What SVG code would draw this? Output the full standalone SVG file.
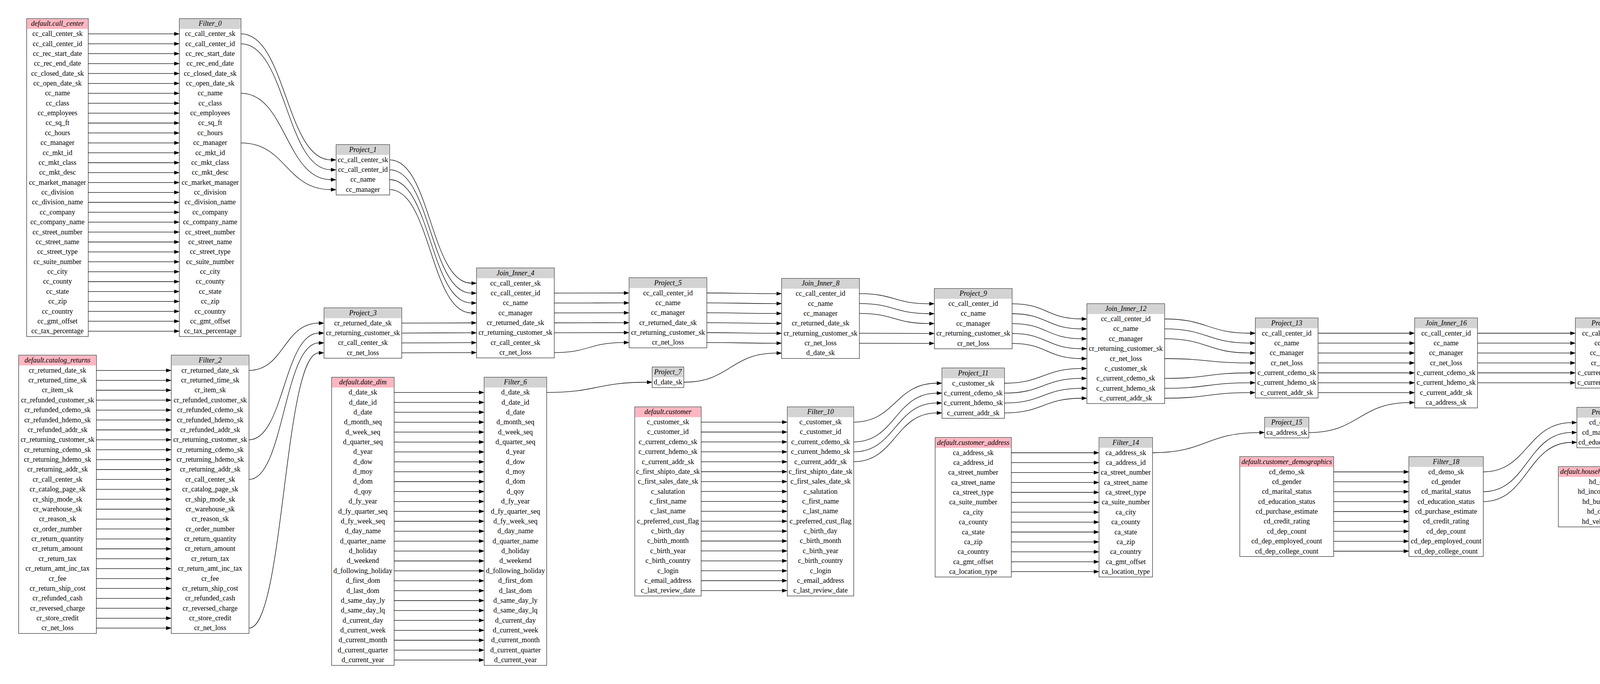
<svg xmlns="http://www.w3.org/2000/svg" width="6717" height="1751" viewBox="0 0 6717 1751">
<style>
.box{fill:#fff;stroke:#333;stroke-width:1.3}
.hs{fill:#ffb6c1}
.ho{fill:#d3d3d3}
.hf{fill:#ffffe0}
text{font-family:"Liberation Serif","Times New Roman",serif;font-size:18px;text-anchor:middle;fill:#000}
text.h{font-style:italic}
.e path{fill:none;stroke:#000;stroke-width:1.3;marker-end:url(#a)}
</style>
<defs>
<marker id="a" markerUnits="userSpaceOnUse" markerWidth="14" markerHeight="10" viewBox="0 0 13.3 9.33" refX="0" refY="4.67" orient="auto"><path d="M0,0L13.3,4.67L0,9.33z" fill="#000"/></marker>
</defs>
<rect width="6717" height="1751" fill="#fff"/>

<g id="call_center" transform="translate(68.3,47.7)">
<rect class="box" width="157.7" height="813.8"/><rect class="hs" x="1.3" y="1.3" width="155.1" height="25"/>
<text class="h" x="78.85" y="18.5">default.call_center</text>
<text x="78.85" y="44.5">cc_call_center_sk</text><text x="78.85" y="69.9">cc_call_center_id</text><text x="78.85" y="95.2">cc_rec_start_date</text><text x="78.85" y="120.6">cc_rec_end_date</text><text x="78.85" y="146.0">cc_closed_date_sk</text><text x="78.85" y="171.4">cc_open_date_sk</text><text x="78.85" y="196.7">cc_name</text><text x="78.85" y="222.1">cc_class</text><text x="78.85" y="247.5">cc_employees</text><text x="78.85" y="272.8">cc_sq_ft</text><text x="78.85" y="298.2">cc_hours</text><text x="78.85" y="323.6">cc_manager</text><text x="78.85" y="348.9">cc_mkt_id</text><text x="78.85" y="374.3">cc_mkt_class</text><text x="78.85" y="399.7">cc_mkt_desc</text><text x="78.85" y="425.1">cc_market_manager</text><text x="78.85" y="450.4">cc_division</text><text x="78.85" y="475.8">cc_division_name</text><text x="78.85" y="501.2">cc_company</text><text x="78.85" y="526.5">cc_company_name</text><text x="78.85" y="551.9">cc_street_number</text><text x="78.85" y="577.3">cc_street_name</text><text x="78.85" y="602.6">cc_street_type</text><text x="78.85" y="628.0">cc_suite_number</text><text x="78.85" y="653.4">cc_city</text><text x="78.85" y="678.8">cc_county</text><text x="78.85" y="704.1">cc_state</text><text x="78.85" y="729.5">cc_zip</text><text x="78.85" y="754.9">cc_country</text><text x="78.85" y="780.2">cc_gmt_offset</text><text x="78.85" y="805.6">cc_tax_percentage</text>
</g>

<g id="Filter_0" transform="translate(459.2,47.7)">
<rect class="box" width="157.7" height="813.8"/><rect class="ho" x="1.3" y="1.3" width="155.1" height="25"/>
<text class="h" x="78.85" y="18.5">Filter_0</text>
<text x="78.85" y="44.5">cc_call_center_sk</text><text x="78.85" y="69.9">cc_call_center_id</text><text x="78.85" y="95.2">cc_rec_start_date</text><text x="78.85" y="120.6">cc_rec_end_date</text><text x="78.85" y="146.0">cc_closed_date_sk</text><text x="78.85" y="171.4">cc_open_date_sk</text><text x="78.85" y="196.7">cc_name</text><text x="78.85" y="222.1">cc_class</text><text x="78.85" y="247.5">cc_employees</text><text x="78.85" y="272.8">cc_sq_ft</text><text x="78.85" y="298.2">cc_hours</text><text x="78.85" y="323.6">cc_manager</text><text x="78.85" y="348.9">cc_mkt_id</text><text x="78.85" y="374.3">cc_mkt_class</text><text x="78.85" y="399.7">cc_mkt_desc</text><text x="78.85" y="425.1">cc_market_manager</text><text x="78.85" y="450.4">cc_division</text><text x="78.85" y="475.8">cc_division_name</text><text x="78.85" y="501.2">cc_company</text><text x="78.85" y="526.5">cc_company_name</text><text x="78.85" y="551.9">cc_street_number</text><text x="78.85" y="577.3">cc_street_name</text><text x="78.85" y="602.6">cc_street_type</text><text x="78.85" y="628.0">cc_suite_number</text><text x="78.85" y="653.4">cc_city</text><text x="78.85" y="678.8">cc_county</text><text x="78.85" y="704.1">cc_state</text><text x="78.85" y="729.5">cc_zip</text><text x="78.85" y="754.9">cc_country</text><text x="78.85" y="780.2">cc_gmt_offset</text><text x="78.85" y="805.6">cc_tax_percentage</text>
</g>

<g id="catalog_returns" transform="translate(47.7,909.3)">
<rect class="box" width="199" height="712.3"/><rect class="hs" x="1.3" y="1.3" width="196.4" height="25"/>
<text class="h" x="99.5" y="18.5">default.catalog_returns</text>
<text x="99.5" y="44.5">cr_returned_date_sk</text><text x="99.5" y="69.9">cr_returned_time_sk</text><text x="99.5" y="95.2">cr_item_sk</text><text x="99.5" y="120.6">cr_refunded_customer_sk</text><text x="99.5" y="146.0">cr_refunded_cdemo_sk</text><text x="99.5" y="171.4">cr_refunded_hdemo_sk</text><text x="99.5" y="196.7">cr_refunded_addr_sk</text><text x="99.5" y="222.1">cr_returning_customer_sk</text><text x="99.5" y="247.5">cr_returning_cdemo_sk</text><text x="99.5" y="272.8">cr_returning_hdemo_sk</text><text x="99.5" y="298.2">cr_returning_addr_sk</text><text x="99.5" y="323.6">cr_call_center_sk</text><text x="99.5" y="348.9">cr_catalog_page_sk</text><text x="99.5" y="374.3">cr_ship_mode_sk</text><text x="99.5" y="399.7">cr_warehouse_sk</text><text x="99.5" y="425.1">cr_reason_sk</text><text x="99.5" y="450.4">cr_order_number</text><text x="99.5" y="475.8">cr_return_quantity</text><text x="99.5" y="501.2">cr_return_amount</text><text x="99.5" y="526.5">cr_return_tax</text><text x="99.5" y="551.9">cr_return_amt_inc_tax</text><text x="99.5" y="577.3">cr_fee</text><text x="99.5" y="602.6">cr_return_ship_cost</text><text x="99.5" y="628.0">cr_refunded_cash</text><text x="99.5" y="653.4">cr_reversed_charge</text><text x="99.5" y="678.8">cr_store_credit</text><text x="99.5" y="704.1">cr_net_loss</text>
</g>

<g id="Filter_2" transform="translate(438.5,909.3)">
<rect class="box" width="199" height="712.3"/><rect class="ho" x="1.3" y="1.3" width="196.4" height="25"/>
<text class="h" x="99.5" y="18.5">Filter_2</text>
<text x="99.5" y="44.5">cr_returned_date_sk</text><text x="99.5" y="69.9">cr_returned_time_sk</text><text x="99.5" y="95.2">cr_item_sk</text><text x="99.5" y="120.6">cr_refunded_customer_sk</text><text x="99.5" y="146.0">cr_refunded_cdemo_sk</text><text x="99.5" y="171.4">cr_refunded_hdemo_sk</text><text x="99.5" y="196.7">cr_refunded_addr_sk</text><text x="99.5" y="222.1">cr_returning_customer_sk</text><text x="99.5" y="247.5">cr_returning_cdemo_sk</text><text x="99.5" y="272.8">cr_returning_hdemo_sk</text><text x="99.5" y="298.2">cr_returning_addr_sk</text><text x="99.5" y="323.6">cr_call_center_sk</text><text x="99.5" y="348.9">cr_catalog_page_sk</text><text x="99.5" y="374.3">cr_ship_mode_sk</text><text x="99.5" y="399.7">cr_warehouse_sk</text><text x="99.5" y="425.1">cr_reason_sk</text><text x="99.5" y="450.4">cr_order_number</text><text x="99.5" y="475.8">cr_return_quantity</text><text x="99.5" y="501.2">cr_return_amount</text><text x="99.5" y="526.5">cr_return_tax</text><text x="99.5" y="551.9">cr_return_amt_inc_tax</text><text x="99.5" y="577.3">cr_fee</text><text x="99.5" y="602.6">cr_return_ship_cost</text><text x="99.5" y="628.0">cr_refunded_cash</text><text x="99.5" y="653.4">cr_reversed_charge</text><text x="99.5" y="678.8">cr_store_credit</text><text x="99.5" y="704.1">cr_net_loss</text>
</g>

<g id="Project_1" transform="translate(860.5,370.3)">
<rect class="box" width="137" height="128.8"/><rect class="ho" x="1.3" y="1.3" width="134.4" height="25"/>
<text class="h" x="68.5" y="18.5">Project_1</text>
<text x="68.5" y="44.5">cc_call_center_sk</text><text x="68.5" y="69.9">cc_call_center_id</text><text x="68.5" y="95.2">cc_name</text><text x="68.5" y="120.6">cc_manager</text>
</g>

<g id="Project_3" transform="translate(829.5,788.2)">
<rect class="box" width="199" height="128.8"/><rect class="ho" x="1.3" y="1.3" width="196.4" height="25"/>
<text class="h" x="99.5" y="18.5">Project_3</text>
<text x="99.5" y="44.5">cr_returned_date_sk</text><text x="99.5" y="69.9">cr_returning_customer_sk</text><text x="99.5" y="95.2">cr_call_center_sk</text><text x="99.5" y="120.6">cr_net_loss</text>
</g>

<g id="date_dim" transform="translate(849,965.7)">
<rect class="box" width="160" height="737.7"/><rect class="hs" x="1.3" y="1.3" width="157.4" height="25"/>
<text class="h" x="80" y="18.5">default.date_dim</text>
<text x="80" y="44.5">d_date_sk</text><text x="80" y="69.9">d_date_id</text><text x="80" y="95.2">d_date</text><text x="80" y="120.6">d_month_seq</text><text x="80" y="146.0">d_week_seq</text><text x="80" y="171.4">d_quarter_seq</text><text x="80" y="196.7">d_year</text><text x="80" y="222.1">d_dow</text><text x="80" y="247.5">d_moy</text><text x="80" y="272.8">d_dom</text><text x="80" y="298.2">d_qoy</text><text x="80" y="323.6">d_fy_year</text><text x="80" y="348.9">d_fy_quarter_seq</text><text x="80" y="374.3">d_fy_week_seq</text><text x="80" y="399.7">d_day_name</text><text x="80" y="425.1">d_quarter_name</text><text x="80" y="450.4">d_holiday</text><text x="80" y="475.8">d_weekend</text><text x="80" y="501.2">d_following_holiday</text><text x="80" y="526.5">d_first_dom</text><text x="80" y="551.9">d_last_dom</text><text x="80" y="577.3">d_same_day_ly</text><text x="80" y="602.6">d_same_day_lq</text><text x="80" y="628.0">d_current_day</text><text x="80" y="653.4">d_current_week</text><text x="80" y="678.8">d_current_month</text><text x="80" y="704.1">d_current_quarter</text><text x="80" y="729.5">d_current_year</text>
</g>

<g id="Join_Inner_4" transform="translate(1220,686)">
<rect class="box" width="199" height="230.3"/><rect class="ho" x="1.3" y="1.3" width="196.4" height="25"/>
<text class="h" x="99.5" y="18.5">Join_Inner_4</text>
<text x="99.5" y="44.5">cc_call_center_sk</text><text x="99.5" y="69.9">cc_call_center_id</text><text x="99.5" y="95.2">cc_name</text><text x="99.5" y="120.6">cc_manager</text><text x="99.5" y="146.0">cr_returned_date_sk</text><text x="99.5" y="171.4">cr_returning_customer_sk</text><text x="99.5" y="196.7">cr_call_center_sk</text><text x="99.5" y="222.1">cr_net_loss</text>
</g>

<g id="Filter_6" transform="translate(1239.5,965.7)">
<rect class="box" width="160" height="737.7"/><rect class="ho" x="1.3" y="1.3" width="157.4" height="25"/>
<text class="h" x="80" y="18.5">Filter_6</text>
<text x="80" y="44.5">d_date_sk</text><text x="80" y="69.9">d_date_id</text><text x="80" y="95.2">d_date</text><text x="80" y="120.6">d_month_seq</text><text x="80" y="146.0">d_week_seq</text><text x="80" y="171.4">d_quarter_seq</text><text x="80" y="196.7">d_year</text><text x="80" y="222.1">d_dow</text><text x="80" y="247.5">d_moy</text><text x="80" y="272.8">d_dom</text><text x="80" y="298.2">d_qoy</text><text x="80" y="323.6">d_fy_year</text><text x="80" y="348.9">d_fy_quarter_seq</text><text x="80" y="374.3">d_fy_week_seq</text><text x="80" y="399.7">d_day_name</text><text x="80" y="425.1">d_quarter_name</text><text x="80" y="450.4">d_holiday</text><text x="80" y="475.8">d_weekend</text><text x="80" y="501.2">d_following_holiday</text><text x="80" y="526.5">d_first_dom</text><text x="80" y="551.9">d_last_dom</text><text x="80" y="577.3">d_same_day_ly</text><text x="80" y="602.6">d_same_day_lq</text><text x="80" y="628.0">d_current_day</text><text x="80" y="653.4">d_current_week</text><text x="80" y="678.8">d_current_month</text><text x="80" y="704.1">d_current_quarter</text><text x="80" y="729.5">d_current_year</text>
</g>

<g id="Project_5" transform="translate(1610.5,711)">
<rect class="box" width="199" height="179.5"/><rect class="ho" x="1.3" y="1.3" width="196.4" height="25"/>
<text class="h" x="99.5" y="18.5">Project_5</text>
<text x="99.5" y="44.5">cc_call_center_id</text><text x="99.5" y="69.9">cc_name</text><text x="99.5" y="95.2">cc_manager</text><text x="99.5" y="120.6">cr_returned_date_sk</text><text x="99.5" y="146.0">cr_returning_customer_sk</text><text x="99.5" y="171.4">cr_net_loss</text>
</g>

<g id="Project_7" transform="translate(1669.5,939.5)">
<rect class="box" width="81" height="52.7"/><rect class="ho" x="1.3" y="1.3" width="78.4" height="25"/>
<text class="h" x="40.5" y="18.5">Project_7</text>
<text x="40.5" y="44.5">d_date_sk</text>
</g>

<g id="customer" transform="translate(1625,1041.6)">
<rect class="box" width="170" height="484"/><rect class="hs" x="1.3" y="1.3" width="167.4" height="25"/>
<text class="h" x="85" y="18.5">default.customer</text>
<text x="85" y="44.5">c_customer_sk</text><text x="85" y="69.9">c_customer_id</text><text x="85" y="95.2">c_current_cdemo_sk</text><text x="85" y="120.6">c_current_hdemo_sk</text><text x="85" y="146.0">c_current_addr_sk</text><text x="85" y="171.4">c_first_shipto_date_sk</text><text x="85" y="196.7">c_first_sales_date_sk</text><text x="85" y="222.1">c_salutation</text><text x="85" y="247.5">c_first_name</text><text x="85" y="272.8">c_last_name</text><text x="85" y="298.2">c_preferred_cust_flag</text><text x="85" y="323.6">c_birth_day</text><text x="85" y="348.9">c_birth_month</text><text x="85" y="374.3">c_birth_year</text><text x="85" y="399.7">c_birth_country</text><text x="85" y="425.1">c_login</text><text x="85" y="450.4">c_email_address</text><text x="85" y="475.8">c_last_review_date</text>
</g>

<g id="Join_Inner_8" transform="translate(2001,712.7)">
<rect class="box" width="199" height="204.9"/><rect class="ho" x="1.3" y="1.3" width="196.4" height="25"/>
<text class="h" x="99.5" y="18.5">Join_Inner_8</text>
<text x="99.5" y="44.5">cc_call_center_id</text><text x="99.5" y="69.9">cc_name</text><text x="99.5" y="95.2">cc_manager</text><text x="99.5" y="120.6">cr_returned_date_sk</text><text x="99.5" y="146.0">cr_returning_customer_sk</text><text x="99.5" y="171.4">cr_net_loss</text><text x="99.5" y="196.7">d_date_sk</text>
</g>

<g id="Filter_10" transform="translate(2015.5,1041.6)">
<rect class="box" width="170" height="484"/><rect class="ho" x="1.3" y="1.3" width="167.4" height="25"/>
<text class="h" x="85" y="18.5">Filter_10</text>
<text x="85" y="44.5">c_customer_sk</text><text x="85" y="69.9">c_customer_id</text><text x="85" y="95.2">c_current_cdemo_sk</text><text x="85" y="120.6">c_current_hdemo_sk</text><text x="85" y="146.0">c_current_addr_sk</text><text x="85" y="171.4">c_first_shipto_date_sk</text><text x="85" y="196.7">c_first_sales_date_sk</text><text x="85" y="222.1">c_salutation</text><text x="85" y="247.5">c_first_name</text><text x="85" y="272.8">c_last_name</text><text x="85" y="298.2">c_preferred_cust_flag</text><text x="85" y="323.6">c_birth_day</text><text x="85" y="348.9">c_birth_month</text><text x="85" y="374.3">c_birth_year</text><text x="85" y="399.7">c_birth_country</text><text x="85" y="425.1">c_login</text><text x="85" y="450.4">c_email_address</text><text x="85" y="475.8">c_last_review_date</text>
</g>

<g id="Project_9" transform="translate(2392,738.6)">
<rect class="box" width="199" height="154.2"/><rect class="ho" x="1.3" y="1.3" width="196.4" height="25"/>
<text class="h" x="99.5" y="18.5">Project_9</text>
<text x="99.5" y="44.5">cc_call_center_id</text><text x="99.5" y="69.9">cc_name</text><text x="99.5" y="95.2">cc_manager</text><text x="99.5" y="120.6">cr_returning_customer_sk</text><text x="99.5" y="146.0">cr_net_loss</text>
</g>

<g id="Project_11" transform="translate(2411.5,942)">
<rect class="box" width="160" height="128.8"/><rect class="ho" x="1.3" y="1.3" width="157.4" height="25"/>
<text class="h" x="80" y="18.5">Project_11</text>
<text x="80" y="44.5">c_customer_sk</text><text x="80" y="69.9">c_current_cdemo_sk</text><text x="80" y="95.2">c_current_hdemo_sk</text><text x="80" y="120.6">c_current_addr_sk</text>
</g>

<g id="customer_address" transform="translate(2394,1120)">
<rect class="box" width="195" height="357.1"/><rect class="hs" x="1.3" y="1.3" width="192.4" height="25"/>
<text class="h" x="97.5" y="18.5">default.customer_address</text>
<text x="97.5" y="44.5">ca_address_sk</text><text x="97.5" y="69.9">ca_address_id</text><text x="97.5" y="95.2">ca_street_number</text><text x="97.5" y="120.6">ca_street_name</text><text x="97.5" y="146.0">ca_street_type</text><text x="97.5" y="171.4">ca_suite_number</text><text x="97.5" y="196.7">ca_city</text><text x="97.5" y="222.1">ca_county</text><text x="97.5" y="247.5">ca_state</text><text x="97.5" y="272.8">ca_zip</text><text x="97.5" y="298.2">ca_country</text><text x="97.5" y="323.6">ca_gmt_offset</text><text x="97.5" y="348.9">ca_location_type</text>
</g>

<g id="Join_Inner_12" transform="translate(2782.5,777.5)">
<rect class="box" width="199" height="255.6"/><rect class="ho" x="1.3" y="1.3" width="196.4" height="25"/>
<text class="h" x="99.5" y="18.5">Join_Inner_12</text>
<text x="99.5" y="44.5">cc_call_center_id</text><text x="99.5" y="69.9">cc_name</text><text x="99.5" y="95.2">cc_manager</text><text x="99.5" y="120.6">cr_returning_customer_sk</text><text x="99.5" y="146.0">cr_net_loss</text><text x="99.5" y="171.4">c_customer_sk</text><text x="99.5" y="196.7">c_current_cdemo_sk</text><text x="99.5" y="222.1">c_current_hdemo_sk</text><text x="99.5" y="247.5">c_current_addr_sk</text>
</g>

<g id="Filter_14" transform="translate(2813.5,1120)">
<rect class="box" width="137" height="357.1"/><rect class="ho" x="1.3" y="1.3" width="134.4" height="25"/>
<text class="h" x="68.5" y="18.5">Filter_14</text>
<text x="68.5" y="44.5">ca_address_sk</text><text x="68.5" y="69.9">ca_address_id</text><text x="68.5" y="95.2">ca_street_number</text><text x="68.5" y="120.6">ca_street_name</text><text x="68.5" y="146.0">ca_street_type</text><text x="68.5" y="171.4">ca_suite_number</text><text x="68.5" y="196.7">ca_city</text><text x="68.5" y="222.1">ca_county</text><text x="68.5" y="247.5">ca_state</text><text x="68.5" y="272.8">ca_zip</text><text x="68.5" y="298.2">ca_country</text><text x="68.5" y="323.6">ca_gmt_offset</text><text x="68.5" y="348.9">ca_location_type</text>
</g>

<g id="Project_13" transform="translate(3213.7,814)">
<rect class="box" width="160.6" height="204.9"/><rect class="ho" x="1.3" y="1.3" width="158" height="25"/>
<text class="h" x="80.3" y="18.5">Project_13</text>
<text x="80.3" y="44.5">cc_call_center_id</text><text x="80.3" y="69.9">cc_name</text><text x="80.3" y="95.2">cc_manager</text><text x="80.3" y="120.6">cr_net_loss</text><text x="80.3" y="146.0">c_current_cdemo_sk</text><text x="80.3" y="171.4">c_current_hdemo_sk</text><text x="80.3" y="196.7">c_current_addr_sk</text>
</g>

<g id="Project_15" transform="translate(3237.5,1068.3)">
<rect class="box" width="113" height="52.7"/><rect class="ho" x="1.3" y="1.3" width="110.4" height="25"/>
<text class="h" x="56.5" y="18.5">Project_15</text>
<text x="56.5" y="44.5">ca_address_sk</text>
</g>

<g id="customer_demographics" transform="translate(3173.8,1169)">
<rect class="box" width="240.4" height="255.6"/><rect class="hs" x="1.3" y="1.3" width="237.8" height="25"/>
<text class="h" x="120.2" y="18.5">default.customer_demographics</text>
<text x="120.2" y="44.5">cd_demo_sk</text><text x="120.2" y="69.9">cd_gender</text><text x="120.2" y="95.2">cd_marital_status</text><text x="120.2" y="120.6">cd_education_status</text><text x="120.2" y="146.0">cd_purchase_estimate</text><text x="120.2" y="171.4">cd_credit_rating</text><text x="120.2" y="196.7">cd_dep_count</text><text x="120.2" y="222.1">cd_dep_employed_count</text><text x="120.2" y="247.5">cd_dep_college_count</text>
</g>

<g id="Join_Inner_16" transform="translate(3621.6,814)">
<rect class="box" width="160.8" height="230.3"/><rect class="ho" x="1.3" y="1.3" width="158.2" height="25"/>
<text class="h" x="80.4" y="18.5">Join_Inner_16</text>
<text x="80.4" y="44.5">cc_call_center_id</text><text x="80.4" y="69.9">cc_name</text><text x="80.4" y="95.2">cc_manager</text><text x="80.4" y="120.6">cr_net_loss</text><text x="80.4" y="146.0">c_current_cdemo_sk</text><text x="80.4" y="171.4">c_current_hdemo_sk</text><text x="80.4" y="196.7">c_current_addr_sk</text><text x="80.4" y="222.1">ca_address_sk</text>
</g>

<g id="Filter_18" transform="translate(3606.7,1169)">
<rect class="box" width="190.6" height="255.6"/><rect class="ho" x="1.3" y="1.3" width="188" height="25"/>
<text class="h" x="95.3" y="18.5">Filter_18</text>
<text x="95.3" y="44.5">cd_demo_sk</text><text x="95.3" y="69.9">cd_gender</text><text x="95.3" y="95.2">cd_marital_status</text><text x="95.3" y="120.6">cd_education_status</text><text x="95.3" y="146.0">cd_purchase_estimate</text><text x="95.3" y="171.4">cd_credit_rating</text><text x="95.3" y="196.7">cd_dep_count</text><text x="95.3" y="222.1">cd_dep_employed_count</text><text x="95.3" y="247.5">cd_dep_college_count</text>
</g>

<g id="Project_17" transform="translate(4033,814)">
<rect class="box" width="161.5" height="179.5"/><rect class="ho" x="1.3" y="1.3" width="158.9" height="25"/>
<text class="h" x="80.75" y="18.5">Project_17</text>
<text x="80.75" y="44.5">cc_call_center_id</text><text x="80.75" y="69.9">cc_name</text><text x="80.75" y="95.2">cc_manager</text><text x="80.75" y="120.6">cr_net_loss</text><text x="80.75" y="146.0">c_current_cdemo_sk</text><text x="80.75" y="171.4">c_current_hdemo_sk</text>
</g>

<g id="Project_19" transform="translate(4036.8,1042.8)">
<rect class="box" width="154" height="103.4"/><rect class="ho" x="1.3" y="1.3" width="151.4" height="25"/>
<text class="h" x="77" y="18.5">Project_19</text>
<text x="77" y="44.5">cd_demo_sk</text><text x="77" y="69.9">cd_marital_status</text><text x="77" y="95.2">cd_education_status</text>
</g>

<g id="household_demographics" transform="translate(3989.4,1194.6)">
<rect class="box" width="248.7" height="154.2"/><rect class="hs" x="1.3" y="1.3" width="246.1" height="25"/>
<text class="h" x="124.35" y="18.5">default.household_demographics</text>
<text x="124.35" y="44.5">hd_demo_sk</text><text x="124.35" y="69.9">hd_income_band_sk</text><text x="124.35" y="95.2">hd_buy_potential</text><text x="124.35" y="120.6">hd_dep_count</text><text x="124.35" y="146.0">hd_vehicle_count</text>
</g>

<g id="Join_Inner_20" transform="translate(4430.6,815.7)">
<rect class="box" width="160.8" height="255.6"/><rect class="ho" x="1.3" y="1.3" width="158.2" height="25"/>
<text class="h" x="80.4" y="18.5">Join_Inner_20</text>
<text x="80.4" y="44.5">cc_call_center_id</text><text x="80.4" y="69.9">cc_name</text><text x="80.4" y="95.2">cc_manager</text><text x="80.4" y="120.6">cr_net_loss</text><text x="80.4" y="146.0">c_current_cdemo_sk</text><text x="80.4" y="171.4">c_current_hdemo_sk</text><text x="80.4" y="196.7">cd_demo_sk</text><text x="80.4" y="222.1">cd_marital_status</text><text x="80.4" y="247.5">cd_education_status</text>
</g>

<g id="Filter_22" transform="translate(4431.8,1194.6)">
<rect class="box" width="158.4" height="154.2"/><rect class="ho" x="1.3" y="1.3" width="155.8" height="25"/>
<text class="h" x="79.2" y="18.5">Filter_22</text>
<text x="79.2" y="44.5">hd_demo_sk</text><text x="79.2" y="69.9">hd_income_band_sk</text><text x="79.2" y="95.2">hd_buy_potential</text><text x="79.2" y="120.6">hd_dep_count</text><text x="79.2" y="146.0">hd_vehicle_count</text>
</g>

<g id="Project_21" transform="translate(4783.5,828.7)">
<rect class="box" width="161" height="204.9"/><rect class="ho" x="1.3" y="1.3" width="158.4" height="25"/>
<text class="h" x="80.5" y="18.5">Project_21</text>
<text x="80.5" y="44.5">cc_call_center_id</text><text x="80.5" y="69.9">cc_name</text><text x="80.5" y="95.2">cc_manager</text><text x="80.5" y="120.6">cr_net_loss</text><text x="80.5" y="146.0">c_current_hdemo_sk</text><text x="80.5" y="171.4">cd_marital_status</text><text x="80.5" y="196.7">cd_education_status</text>
</g>

<g id="Project_23" transform="translate(4813.6,1131.6)">
<rect class="box" width="100.8" height="52.7"/><rect class="ho" x="1.3" y="1.3" width="98.2" height="25"/>
<text class="h" x="50.4" y="18.5">Project_23</text>
<text x="50.4" y="44.5">hd_demo_sk</text>
</g>

<g id="Join_Inner_24" transform="translate(5137.3,828.7)">
<rect class="box" width="161" height="230.3"/><rect class="ho" x="1.3" y="1.3" width="158.4" height="25"/>
<text class="h" x="80.5" y="18.5">Join_Inner_24</text>
<text x="80.5" y="44.5">cc_call_center_id</text><text x="80.5" y="69.9">cc_name</text><text x="80.5" y="95.2">cc_manager</text><text x="80.5" y="120.6">cr_net_loss</text><text x="80.5" y="146.0">c_current_hdemo_sk</text><text x="80.5" y="171.4">cd_marital_status</text><text x="80.5" y="196.7">cd_education_status</text><text x="80.5" y="222.1">hd_demo_sk</text>
</g>

<g id="Project_25" transform="translate(5491,828.7)">
<rect class="box" width="154" height="179.5"/><rect class="ho" x="1.3" y="1.3" width="151.4" height="25"/>
<text class="h" x="77" y="18.5">Project_25</text>
<text x="77" y="44.5">cc_call_center_id</text><text x="77" y="69.9">cc_name</text><text x="77" y="95.2">cc_manager</text><text x="77" y="120.6">cr_net_loss</text><text x="77" y="146.0">cd_marital_status</text><text x="77" y="171.4">cd_education_status</text>
</g>

<g id="Aggregate_26" transform="translate(5837.5,828.7)">
<rect class="box" width="149" height="128.8"/><rect class="ho" x="1.3" y="1.3" width="146.4" height="25"/>
<text class="h" x="74.5" y="18.5">Aggregate_26</text>
<text x="74.5" y="44.5">Call_Center</text><text x="74.5" y="69.9">Call_Center_Name</text><text x="74.5" y="95.2">Manager</text><text x="74.5" y="120.6">Returns_Loss</text>
</g>

<g id="Sort_27" transform="translate(6178.5,828.7)">
<rect class="box" width="149" height="128.8"/><rect class="ho" x="1.3" y="1.3" width="146.4" height="25"/>
<text class="h" x="74.5" y="18.5">Sort_27</text>
<text x="74.5" y="44.5">Call_Center</text><text x="74.5" y="69.9">Call_Center_Name</text><text x="74.5" y="95.2">Manager</text><text x="74.5" y="120.6">Returns_Loss</text>
</g>

<g id="v" transform="translate(6520,828.7)">
<rect class="box" width="149" height="128.8"/><rect class="hf" x="1.3" y="1.3" width="146.4" height="25"/>
<text class="h" x="74.5" y="18.5">v</text>
<text x="74.5" y="44.5">Call_Center</text><text x="74.5" y="69.9">Call_Center_Name</text><text x="74.5" y="95.2">Manager</text><text x="74.5" y="120.6">Returns_Loss</text>
</g>

<g id="connectors" class="e">
<path d="M226,86.7H445.9"/><path d="M226,112.1H445.9"/><path d="M226,137.4H445.9"/><path d="M226,162.8H445.9"/><path d="M226,188.2H445.9"/><path d="M226,213.6H445.9"/><path d="M226,238.9H445.9"/><path d="M226,264.3H445.9"/><path d="M226,289.7H445.9"/><path d="M226,315H445.9"/><path d="M226,340.4H445.9"/><path d="M226,365.8H445.9"/><path d="M226,391.1H445.9"/><path d="M226,416.5H445.9"/><path d="M226,441.9H445.9"/><path d="M226,467.3H445.9"/><path d="M226,492.6H445.9"/><path d="M226,518H445.9"/><path d="M226,543.4H445.9"/><path d="M226,568.7H445.9"/><path d="M226,594.1H445.9"/><path d="M226,619.5H445.9"/><path d="M226,644.8H445.9"/><path d="M226,670.2H445.9"/><path d="M226,695.6H445.9"/><path d="M226,721H445.9"/><path d="M226,746.3H445.9"/><path d="M226,771.7H445.9"/><path d="M226,797.1H445.9"/><path d="M226,822.4H445.9"/><path d="M226,847.8H445.9"/>
<path d="M246.7,948.3H425.2"/><path d="M246.7,973.7H425.2"/><path d="M246.7,999H425.2"/><path d="M246.7,1024.4H425.2"/><path d="M246.7,1049.8H425.2"/><path d="M246.7,1075.2H425.2"/><path d="M246.7,1100.5H425.2"/><path d="M246.7,1125.9H425.2"/><path d="M246.7,1151.3H425.2"/><path d="M246.7,1176.6H425.2"/><path d="M246.7,1202H425.2"/><path d="M246.7,1227.4H425.2"/><path d="M246.7,1252.7H425.2"/><path d="M246.7,1278.1H425.2"/><path d="M246.7,1303.5H425.2"/><path d="M246.7,1328.9H425.2"/><path d="M246.7,1354.2H425.2"/><path d="M246.7,1379.6H425.2"/><path d="M246.7,1405H425.2"/><path d="M246.7,1430.3H425.2"/><path d="M246.7,1455.7H425.2"/><path d="M246.7,1481.1H425.2"/><path d="M246.7,1506.4H425.2"/><path d="M246.7,1531.8H425.2"/><path d="M246.7,1557.2H425.2"/><path d="M246.7,1582.6H425.2"/><path d="M246.7,1607.9H425.2"/>
<path d="M1009,1004.7H1226.2"/><path d="M1009,1030.1H1226.2"/><path d="M1009,1055.4H1226.2"/><path d="M1009,1080.8H1226.2"/><path d="M1009,1106.2H1226.2"/><path d="M1009,1131.6H1226.2"/><path d="M1009,1156.9H1226.2"/><path d="M1009,1182.3H1226.2"/><path d="M1009,1207.7H1226.2"/><path d="M1009,1233H1226.2"/><path d="M1009,1258.4H1226.2"/><path d="M1009,1283.8H1226.2"/><path d="M1009,1309.1H1226.2"/><path d="M1009,1334.5H1226.2"/><path d="M1009,1359.9H1226.2"/><path d="M1009,1385.3H1226.2"/><path d="M1009,1410.6H1226.2"/><path d="M1009,1436H1226.2"/><path d="M1009,1461.4H1226.2"/><path d="M1009,1486.7H1226.2"/><path d="M1009,1512.1H1226.2"/><path d="M1009,1537.5H1226.2"/><path d="M1009,1562.8H1226.2"/><path d="M1009,1588.2H1226.2"/><path d="M1009,1613.6H1226.2"/><path d="M1009,1639H1226.2"/><path d="M1009,1664.3H1226.2"/><path d="M1009,1689.7H1226.2"/>
<path d="M1795,1080.6H2002.2"/><path d="M1795,1106H2002.2"/><path d="M1795,1131.3H2002.2"/><path d="M1795,1156.7H2002.2"/><path d="M1795,1182.1H2002.2"/><path d="M1795,1207.5H2002.2"/><path d="M1795,1232.8H2002.2"/><path d="M1795,1258.2H2002.2"/><path d="M1795,1283.6H2002.2"/><path d="M1795,1308.9H2002.2"/><path d="M1795,1334.3H2002.2"/><path d="M1795,1359.7H2002.2"/><path d="M1795,1385H2002.2"/><path d="M1795,1410.4H2002.2"/><path d="M1795,1435.8H2002.2"/><path d="M1795,1461.2H2002.2"/><path d="M1795,1486.5H2002.2"/><path d="M1795,1511.9H2002.2"/>
<path d="M2589,1159H2800.2"/><path d="M2589,1184.4H2800.2"/><path d="M2589,1209.7H2800.2"/><path d="M2589,1235.1H2800.2"/><path d="M2589,1260.5H2800.2"/><path d="M2589,1285.9H2800.2"/><path d="M2589,1311.2H2800.2"/><path d="M2589,1336.6H2800.2"/><path d="M2589,1362H2800.2"/><path d="M2589,1387.3H2800.2"/><path d="M2589,1412.7H2800.2"/><path d="M2589,1438.1H2800.2"/><path d="M2589,1463.4H2800.2"/>
<path d="M3414.2,1208H3593.4"/><path d="M3414.2,1233.4H3593.4"/><path d="M3414.2,1258.7H3593.4"/><path d="M3414.2,1284.1H3593.4"/><path d="M3414.2,1309.5H3593.4"/><path d="M3414.2,1334.9H3593.4"/><path d="M3414.2,1360.2H3593.4"/><path d="M3414.2,1385.6H3593.4"/><path d="M3414.2,1411H3593.4"/>
<path d="M4238.1,1233.6H4418.5"/><path d="M4238.1,1259H4418.5"/><path d="M4238.1,1284.3H4418.5"/><path d="M4238.1,1309.7H4418.5"/><path d="M4238.1,1335.1H4418.5"/>

<path d="M616.9,86.7C732,86.7 732,409.3 847.2,409.3"/>
<path d="M616.9,112.1C732,112.1 732,434.7 847.2,434.7"/>
<path d="M616.9,238.9C732,238.9 732,460 847.2,460"/>
<path d="M616.9,365.8C732,365.8 732,485.4 847.2,485.4"/>

<path d="M637.5,948.3C726.9,948.3 726.9,827.2 816.2,827.2"/>
<path d="M637.5,1125.9C726.9,1125.9 726.9,852.6 816.2,852.6"/>
<path d="M637.5,1227.4C726.9,1227.4 726.9,877.9 816.2,877.9"/>
<path d="M637.5,1607.9C726.9,1607.9 726.9,903.3 816.2,903.3"/>

<path d="M997.5,409.3C1102.1,409.3 1102.1,725 1206.7,725"/>
<path d="M997.5,434.7C1102.1,434.7 1102.1,750.4 1206.7,750.4"/>
<path d="M997.5,460C1102.1,460 1102.1,775.7 1206.7,775.7"/>
<path d="M997.5,485.4C1102.1,485.4 1102.1,801.1 1206.7,801.1"/>
<path d="M1028.5,827.2C1117.6,827.2 1117.6,826.5 1206.7,826.5"/>
<path d="M1028.5,852.6C1117.6,852.6 1117.6,851.9 1206.7,851.9"/>
<path d="M1028.5,877.9C1117.6,877.9 1117.6,877.2 1206.7,877.2"/>
<path d="M1028.5,903.3C1117.6,903.3 1117.6,902.6 1206.7,902.6"/>

<path d="M1419,750.4C1508.1,750.4 1508.1,750 1597.2,750"/>
<path d="M1419,775.7C1508.1,775.7 1508.1,775.4 1597.2,775.4"/>
<path d="M1419,801.1C1508.1,801.1 1508.1,800.7 1597.2,800.7"/>
<path d="M1419,826.5C1508.1,826.5 1508.1,826.1 1597.2,826.1"/>
<path d="M1419,851.9C1508.1,851.9 1508.1,851.5 1597.2,851.5"/>
<path d="M1419,902.6C1508.1,902.6 1508.1,876.9 1597.2,876.9"/>

<path d="M1399.5,1004.7C1527.9,1004.7 1527.9,978.5 1656.2,978.5"/>

<path d="M1809.5,750C1898.6,750 1898.6,751.7 1987.7,751.7"/>
<path d="M1809.5,775.4C1898.6,775.4 1898.6,777.1 1987.7,777.1"/>
<path d="M1809.5,800.7C1898.6,800.7 1898.6,802.4 1987.7,802.4"/>
<path d="M1809.5,826.1C1898.6,826.1 1898.6,827.8 1987.7,827.8"/>
<path d="M1809.5,851.5C1898.6,851.5 1898.6,853.2 1987.7,853.2"/>
<path d="M1809.5,876.9C1898.6,876.9 1898.6,878.6 1987.7,878.6"/>
<path d="M1750.5,978.5C1869.1,978.5 1869.1,903.9 1987.7,903.9"/>

<path d="M2200,751.7C2289.4,751.7 2289.4,777.6 2378.7,777.6"/>
<path d="M2200,777.1C2289.4,777.1 2289.4,803 2378.7,803"/>
<path d="M2200,802.4C2289.4,802.4 2289.4,828.3 2378.7,828.3"/>
<path d="M2200,853.2C2289.4,853.2 2289.4,853.7 2378.7,853.7"/>
<path d="M2200,878.6C2289.4,878.6 2289.4,879.1 2378.7,879.1"/>

<path d="M2185.5,1080.6C2291.9,1080.6 2291.9,981 2398.2,981"/>
<path d="M2185.5,1131.3C2291.9,1131.3 2291.9,1006.4 2398.2,1006.4"/>
<path d="M2185.5,1156.7C2291.9,1156.7 2291.9,1031.7 2398.2,1031.7"/>
<path d="M2185.5,1182.1C2291.9,1182.1 2291.9,1057.1 2398.2,1057.1"/>

<path d="M2591,777.6C2680.1,777.6 2680.1,816.5 2769.2,816.5"/>
<path d="M2591,803C2680.1,803 2680.1,841.9 2769.2,841.9"/>
<path d="M2591,828.3C2680.1,828.3 2680.1,867.2 2769.2,867.2"/>
<path d="M2591,853.7C2680.1,853.7 2680.1,892.6 2769.2,892.6"/>
<path d="M2591,879.1C2680.1,879.1 2680.1,918 2769.2,918"/>
<path d="M2571.5,981C2670.4,981 2670.4,943.4 2769.2,943.4"/>
<path d="M2571.5,1006.4C2670.4,1006.4 2670.4,968.7 2769.2,968.7"/>
<path d="M2571.5,1031.7C2670.4,1031.7 2670.4,994.1 2769.2,994.1"/>
<path d="M2571.5,1057.1C2670.4,1057.1 2670.4,1019.5 2769.2,1019.5"/>

<path d="M2981.5,816.5C3091,816.5 3091,853 3200.4,853"/>
<path d="M2981.5,841.9C3091,841.9 3091,878.4 3200.4,878.4"/>
<path d="M2981.5,867.2C3091,867.2 3091,903.7 3200.4,903.7"/>
<path d="M2981.5,918C3091,918 3091,929.1 3200.4,929.1"/>
<path d="M2981.5,968.7C3091,968.7 3091,954.5 3200.4,954.5"/>
<path d="M2981.5,994.1C3091,994.1 3091,979.9 3200.4,979.9"/>
<path d="M2981.5,1019.5C3091,1019.5 3091,1005.2 3200.4,1005.2"/>

<path d="M2950.5,1159C3087.4,1159 3087.4,1107.3 3224.2,1107.3"/>

<path d="M3374.3,853H3608.3"/><path d="M3374.3,878.4H3608.3"/><path d="M3374.3,903.7H3608.3"/><path d="M3374.3,929.1H3608.3"/><path d="M3374.3,954.5H3608.3"/><path d="M3374.3,979.9H3608.3"/><path d="M3374.3,1005.2H3608.3"/>
<path d="M3350.5,1107.3C3479.4,1107.3 3479.4,1030.6 3608.3,1030.6"/>

<path d="M3782.4,853H4019.7"/><path d="M3782.4,878.4H4019.7"/><path d="M3782.4,903.7H4019.7"/><path d="M3782.4,929.1H4019.7"/><path d="M3782.4,954.5H4019.7"/><path d="M3782.4,979.9H4019.7"/>

<path d="M3797.3,1208C3910.4,1208 3910.4,1081.8 4023.5,1081.8"/>
<path d="M3797.3,1258.7C3910.4,1258.7 3910.4,1107.2 4023.5,1107.2"/>
<path d="M3797.3,1284.1C3910.4,1284.1 3910.4,1132.5 4023.5,1132.5"/>

<path d="M4194.5,853C4305.9,853 4305.9,854.7 4417.3,854.7"/>
<path d="M4194.5,878.4C4305.9,878.4 4305.9,880.1 4417.3,880.1"/>
<path d="M4194.5,903.7C4305.9,903.7 4305.9,905.4 4417.3,905.4"/>
<path d="M4194.5,929.1C4305.9,929.1 4305.9,930.8 4417.3,930.8"/>
<path d="M4194.5,954.5C4305.9,954.5 4305.9,956.2 4417.3,956.2"/>
<path d="M4194.5,979.9C4305.9,979.9 4305.9,981.6 4417.3,981.6"/>
<path d="M4190.8,1081.8C4304,1081.8 4304,1006.9 4417.3,1006.9"/>
<path d="M4190.8,1107.2C4304,1107.2 4304,1032.3 4417.3,1032.3"/>
<path d="M4190.8,1132.5C4304,1132.5 4304,1057.7 4417.3,1057.7"/>

<path d="M4590.2,1233.6C4695.3,1233.6 4695.3,1170.6 4800.3,1170.6"/>

<path d="M4591.4,854.7C4680.8,854.7 4680.8,867.7 4770.2,867.7"/>
<path d="M4591.4,880.1C4680.8,880.1 4680.8,893.1 4770.2,893.1"/>
<path d="M4591.4,905.4C4680.8,905.4 4680.8,918.4 4770.2,918.4"/>
<path d="M4591.4,930.8C4680.8,930.8 4680.8,943.8 4770.2,943.8"/>
<path d="M4591.4,981.6C4680.8,981.6 4680.8,969.2 4770.2,969.2"/>
<path d="M4591.4,1032.3C4680.8,1032.3 4680.8,994.6 4770.2,994.6"/>
<path d="M4591.4,1057.7C4680.8,1057.7 4680.8,1019.9 4770.2,1019.9"/>

<path d="M4944.5,867.7H5124"/><path d="M4944.5,893.1H5124"/><path d="M4944.5,918.4H5124"/><path d="M4944.5,943.8H5124"/><path d="M4944.5,969.2H5124"/><path d="M4944.5,994.6H5124"/><path d="M4944.5,1019.9H5124"/>
<path d="M4914.4,1170.6C5019.2,1170.6 5019.2,1045.3 5124,1045.3"/>

<path d="M5298.3,867.7H5477.7"/><path d="M5298.3,893.1H5477.7"/><path d="M5298.3,918.4H5477.7"/><path d="M5298.3,943.8H5477.7"/>
<path d="M5298.3,994.6C5388,994.6 5388,969.2 5477.7,969.2"/>
<path d="M5298.3,1019.9C5388,1019.9 5388,994.6 5477.7,994.6"/>

<path d="M5645,867.7H5824.2"/><path d="M5645,893.1H5824.2"/><path d="M5645,918.4H5824.2"/><path d="M5645,943.8H5824.2"/>
<path d="M5986.5,867.7H6165.2"/><path d="M5986.5,893.1H6165.2"/><path d="M5986.5,918.4H6165.2"/><path d="M5986.5,943.8H6165.2"/>
<path d="M6327.5,867.7H6506.7"/><path d="M6327.5,893.1H6506.7"/><path d="M6327.5,918.4H6506.7"/><path d="M6327.5,943.8H6506.7"/>
</g>
</svg>
